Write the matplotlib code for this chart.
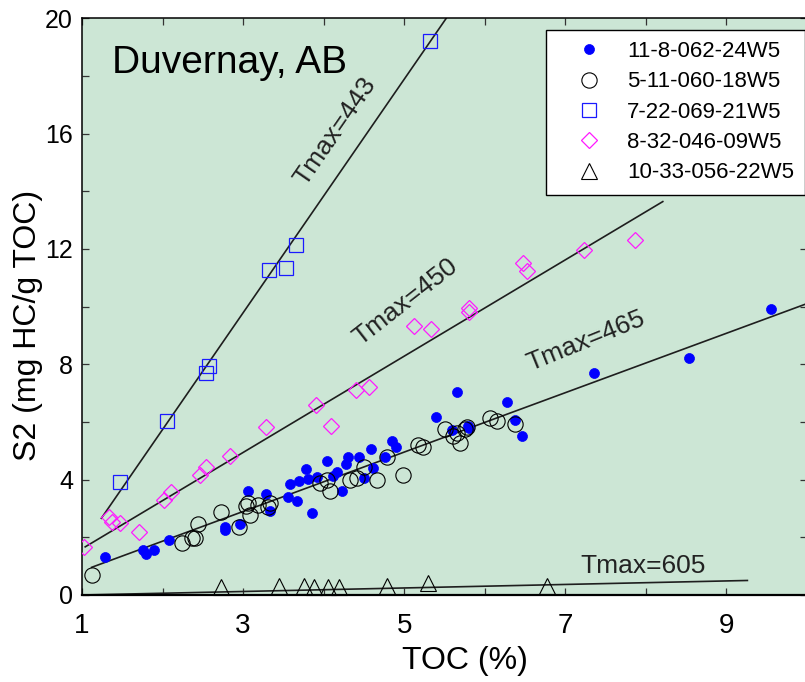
import matplotlib
matplotlib.use("Agg")
import matplotlib.pyplot as plt
from matplotlib.ticker import MultipleLocator
import numpy as np

plt.rcParams['font.family'] = ['Liberation Sans', 'DejaVu Sans']

# ---------------- data ----------------
well_labels = ["11-8-062-24W5", "5-11-060-18W5", "7-22-069-21W5",
               "8-32-046-09W5", "10-33-056-22W5"]

w1_toc = [1.29, 1.76, 1.79, 1.89, 2.08, 2.77, 2.77, 2.96, 3.06, 3.29, 3.33, 3.56,
          3.58, 3.67, 3.69, 3.78, 3.80, 3.86, 3.92, 4.04, 4.11, 4.17, 4.23, 4.28,
          4.30, 4.44, 4.50, 4.59, 4.61, 4.76, 4.85, 4.90, 5.40, 5.59, 5.66, 5.79,
          5.81, 6.27, 6.38, 6.46, 7.35, 8.54, 9.55]
w1_s2 = [1.31, 1.56, 1.42, 1.56, 1.91, 2.37, 2.25, 2.46, 3.62, 3.50, 2.92, 3.39,
         3.85, 3.27, 3.96, 4.37, 4.01, 2.83, 4.08, 4.66, 4.13, 4.28, 3.62, 4.54,
         4.80, 4.78, 4.05, 5.06, 4.39, 4.80, 5.35, 5.12, 6.16, 5.72, 7.05, 5.87,
         5.79, 6.70, 6.07, 5.52, 7.69, 8.23, 9.92]

w2_toc = [1.13, 2.24, 2.36, 2.40, 2.44, 2.72, 2.95, 3.04, 3.08, 3.06, 3.19, 3.31,
          3.33, 3.95, 4.04, 4.08, 4.33, 4.41, 4.50, 4.66, 4.78, 4.98, 5.17, 5.23,
          5.50, 5.61, 5.65, 5.69, 5.76, 5.78, 6.06, 6.15, 6.38]
w2_s2 = [0.69, 1.79, 1.97, 1.97, 2.46, 2.89, 2.35, 3.09, 2.77, 3.18, 3.12, 3.06,
         3.18, 3.87, 3.99, 3.62, 3.99, 4.05, 4.45, 3.99, 4.80, 4.16, 5.20, 5.14,
         5.75, 5.51, 5.61, 5.28, 5.75, 5.84, 6.13, 6.04, 5.92]

w3_toc = [1.47, 2.06, 2.54, 2.58, 3.32, 3.53, 3.66, 5.32]
w3_s2 = [3.93, 6.05, 7.71, 7.94, 11.27, 11.33, 12.14, 19.23]

w4_toc = [1.02, 1.33, 1.37, 1.47, 1.71, 2.02, 2.10, 2.46, 2.54, 2.84, 3.29, 3.90,
          4.09, 4.40, 4.56, 5.12, 5.33, 5.80, 5.81, 6.48, 6.52, 7.23, 7.86]
w4_s2 = [1.68, 2.72, 2.54, 2.49, 2.20, 3.30, 3.58, 4.16, 4.45, 4.82, 5.82, 6.59,
         5.86, 7.11, 7.22, 9.33, 9.21, 9.97, 9.83, 11.53, 11.25, 11.97, 12.31]

w5_toc = [2.73, 3.44, 3.75, 3.88, 4.05, 4.19, 4.78, 5.30, 6.77]
w5_s2 = [0.27, 0.31, 0.31, 0.29, 0.27, 0.27, 0.31, 0.43, 0.31]

# Tmax trend lines: label, x-range, value at start, slope
fit_tmax = [443, 450, 465, 605]
fit_x0 = [1.24, 1.04, 1.12, 1.00]
fit_x1 = [5.52, 8.21, 10.0, 9.26]
fit_y0 = [2.66, 1.67, 0.96, 0.00]
fit_slope = [4.05, 1.67, 1.03, 0.061]
# label placement (data coords) and angle
lab_x = [4.14, 5.02, 7.25, 7.97]
lab_y = [16.07, 10.16, 8.81, 1.00]
lab_rot = [55.4, 38.0, 22.0, 0.0]

# ---------------- figure ----------------
W, H = 805, 682
fig = plt.figure(figsize=(W / 100, H / 100), dpi=100)
ax = fig.add_axes([82 / W, 1 - 595 / H, 725 / W, (595 - 18.3) / H])
ax.set_facecolor('#cce6d5')

ax.set_xlim(1, 10)
ax.set_ylim(0, 20)

line_col = '#1e1e1e'
for x0, x1, y0, s in zip(fit_x0, fit_x1, fit_y0, fit_slope):
    xs = np.array([x0, x1])
    ax.plot(xs, y0 + s * (xs - x0), color=line_col, lw=1.2, zorder=2)

for t, x, y, r in zip(fit_tmax, lab_x, lab_y, lab_rot):
    ax.text(x, y, f"Tmax={t}", rotation=r, rotation_mode='anchor',
            ha='center', va='center', fontsize=19, color='#222222', zorder=3)

ax.plot(w1_toc, w1_s2, 'o', ms=7.2, mfc='#0000ff', mec='#0000ff', mew=0.5,
        label=well_labels[0], zorder=4)
ax.plot(w2_toc, w2_s2, 'o', ms=11, mfc='none', mec='black', mew=0.8,
        label=well_labels[1], zorder=4)
ax.plot(w3_toc, w3_s2, 's', ms=10, mfc='none', mec='#1a1aff', mew=0.9,
        label=well_labels[2], zorder=4, clip_on=False)
ax.plot(w4_toc, w4_s2, 'D', ms=8, mfc='none', mec='#ff1aff', mew=0.9,
        label=well_labels[3], zorder=4)
ax.plot(w5_toc, w5_s2, '^', ms=12, mfc='none', mec='black', mew=0.8,
        label=well_labels[4], zorder=4, clip_on=False)

ax.text(0.041, 0.905, 'Duvernay, AB', transform=ax.transAxes, fontsize=28,
        ha='left', va='baseline', color='black')

# ticks
ax.set_xticks([1, 3, 5, 7, 9])
ax.xaxis.set_minor_locator(MultipleLocator(1))
ax.set_yticks([0, 4, 8, 12, 16, 20])
ax.yaxis.set_minor_locator(MultipleLocator(2))
ax.tick_params(axis='both', which='both', direction='in', top=True, right=True,
               length=5, width=0.9, color='#333333')
ax.tick_params(axis='x', which='major', labelsize=20, pad=13)
ax.tick_params(axis='y', which='major', labelsize=18, pad=6.5)
for s in ax.spines.values():
    s.set_linewidth(1.1)
ax.spines['bottom'].set_linewidth(1.6)

fig.text(465 / W, 1 - 661 / H, 'TOC (%)', fontsize=23, ha='center', va='center')
fig.text(28 / W, 1 - 325 / H, 'S2 (mg HC/g TOC)', fontsize=23, ha='center',
         va='center', rotation=90)

leg = ax.legend(loc='upper left', bbox_to_anchor=(546 / W, 1 - 30 / H),
                bbox_transform=fig.transFigure, borderaxespad=0, fontsize=16,
                frameon=True, fancybox=False, edgecolor='black', framealpha=1,
                borderpad=0.5, handlelength=2.9, handletextpad=0.25,
                labelspacing=0.42, numpoints=1)
leg.get_frame().set_linewidth(1.0)

fig.savefig('out.png', dpi=100)
